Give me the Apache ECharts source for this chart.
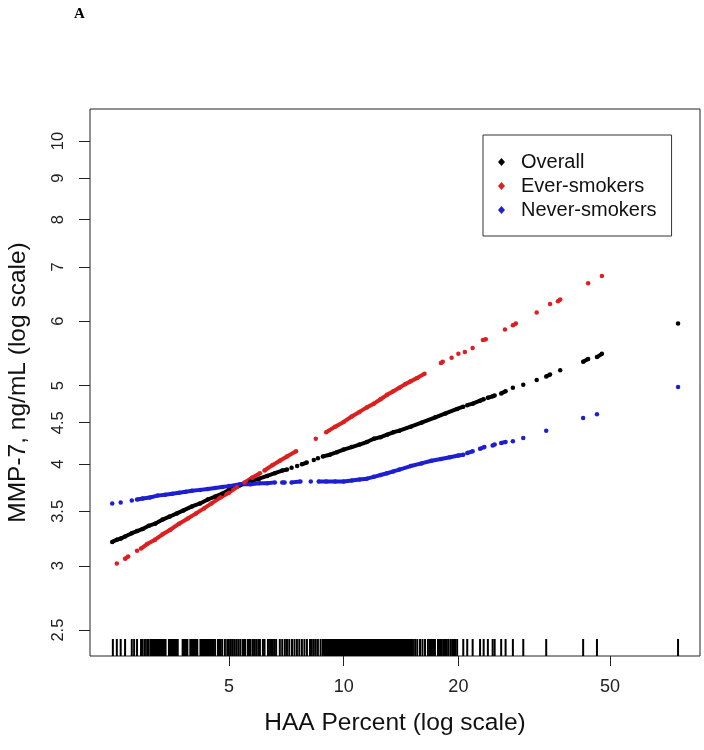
<!DOCTYPE html>
<html>
<head>
<meta charset="utf-8">
<script src="https://cdn.jsdelivr.net/npm/echarts@6/dist/echarts.min.js"></script>
<style>
html,body{margin:0;padding:0;background:#fff;}
#chart{width:704px;height:750px;}
</style>
</head>
<body>
<div id="chart"></div>
<script>
// ---- axis ranges / ticks ----
const X_MIN = 2.16, X_MAX = 86.1;
const Y_MIN = 2.323, Y_MAX = 10.95;
const xTicks = [5, 10, 20, 50];
const yTicks = [2.5, 3, 3.5, 4, 4.5, 5, 6, 7, 8, 9, 10];

// ---- rug (HAA percent of each subject) ----
const haaRug = [
  2.48, 2.54, 2.60, 2.67, 2.78, 2.82, 2.87, 2.94, 2.97, 3.01, 3.05, 3.08,
  3.12, 3.14, 3.16, 3.18, 3.20, 3.22, 3.23, 3.25, 3.27, 3.29, 3.31, 3.33, 3.35, 3.37, 3.39, 3.41,
  3.48, 3.50, 3.52, 3.54, 3.56, 3.58, 3.61, 3.63, 3.65, 3.67,
  3.78, 3.80, 3.82, 3.84, 3.87, 3.89, 3.96, 3.98, 4.01, 4.03, 4.06, 4.08, 4.11, 4.13,
  4.21, 4.23, 4.26, 4.28, 4.31, 4.33, 4.36, 4.39, 4.42, 4.44, 4.47, 4.50, 4.53, 4.56,
  4.60, 4.68, 4.72, 4.75, 4.80, 4.88, 4.95, 5.00, 5.06, 5.12, 5.18, 5.24, 5.30, 5.36, 5.44,
  5.48, 5.52, 5.61, 5.65, 5.70, 5.78, 5.84, 5.90, 5.97, 6.03, 6.14, 6.20, 6.33, 6.41, 6.46,
  6.52, 6.58, 6.65, 6.80, 6.90, 7.01, 7.10, 7.20, 7.32, 7.43, 7.54, 7.65, 7.77, 7.89, 8.01,
  8.16, 8.25, 8.35, 8.45, 8.56, 8.70,
  8.82, 8.87, 8.93, 8.98, 9.04, 9.09, 9.15, 9.20, 9.26, 9.31, 9.37, 9.42, 9.48, 9.54, 9.60,
  9.66, 9.72, 9.78, 9.84, 9.90, 9.96, 10.02, 10.08, 10.14, 10.20, 10.26, 10.33, 10.39,
  10.45, 10.51, 10.58, 10.64, 10.71, 10.77, 10.84, 10.90, 10.97, 11.03, 11.10, 11.17,
  11.24, 11.31, 11.38, 11.45, 11.52, 11.59, 11.66, 11.73, 11.80, 11.87, 11.94, 12.01,
  12.09, 12.16, 12.24, 12.31, 12.39, 12.46, 12.54, 12.61, 12.69, 12.77, 12.85, 12.92,
  13.00, 13.08, 13.16, 13.24, 13.32, 13.40, 13.48, 13.56, 13.65, 13.73, 13.81, 13.89,
  13.98, 14.06, 14.15, 14.23, 14.32, 14.41, 14.50, 14.59, 14.68, 14.77, 14.86,
  15.02, 15.20, 15.40, 15.60, 15.86, 16.10, 16.35, 16.64, 16.85, 17.05, 17.20, 17.36,
  17.68, 17.90, 18.10, 18.30, 18.45, 18.60, 18.80, 19.05, 19.26, 19.45, 19.60, 19.85,
  20.60, 21.10, 21.80, 22.80, 23.30, 23.90, 24.60, 24.90, 25.90, 26.60,
  27.80, 29.60, 34.00, 42.50, 46.20, 75.40
];

// ---- Overall (null = gap between points) ----
const overallX = [2.47, 2.54, 2.60, 2.67, 2.78, 2.87, 2.97, 3.08, 3.20, 3.35, 3.50, 3.65, 3.80, 4.00, 4.20, 4.40, 4.60, 4.80, 5.00, 5.35, 5.70, 6.00, 6.30, 6.60, 6.90, 7.10, null, 7.30, null, 7.55, null, 7.77, 8.00, null, 8.35, null, 8.56, null, 8.82, 9.20, 9.60, 10.00, 10.50, 11.00, 11.50, 12.00, 12.50, 13.00, 13.50, 14.00, 15.00, 16.00, 17.40, 18.50, 19.85, 20.60, null, 21.10, 21.80, 22.80, 23.30, null, 23.90, 24.60, 24.90, null, 25.90, 26.60, null, 27.80, null, 29.60, null, 32.10, null, 34.00, 34.80, null, 37.00, null, 42.50, 43.80, null, 46.20, 47.60, null, 75.40];
const overallY = [3.21, 3.23, 3.24, 3.26, 3.29, 3.31, 3.33, 3.36, 3.38, 3.42, 3.45, 3.48, 3.51, 3.55, 3.58, 3.62, 3.65, 3.68, 3.72, 3.77, 3.81, 3.84, 3.87, 3.90, 3.93, 3.94, null, 3.96, null, 3.98, null, 4.00, 4.02, null, 4.05, null, 4.07, null, 4.09, 4.11, 4.14, 4.17, 4.20, 4.23, 4.26, 4.30, 4.32, 4.35, 4.38, 4.40, 4.45, 4.50, 4.57, 4.62, 4.68, 4.71, null, 4.73, 4.75, 4.79, 4.81, null, 4.83, 4.85, 4.86, null, 4.89, 4.92, null, 4.97, null, 5.01, null, 5.08, null, 5.13, 5.16, null, 5.22, null, 5.35, 5.39, null, 5.42, 5.47, null, 5.96];

// ---- Ever-smokers ----
const everX = [2.54, null, 2.67, 2.72, null, 2.87, null, 2.94, 3.05, 3.20, 3.35, 3.50, 3.70, 3.90, 4.10, 4.30, 4.50, 4.75, 5.00, 5.25, 5.50, 5.75, 6.03, null, 6.20, 6.50, 6.80, 7.10, 7.50, null, 8.45, null, 9.00, 9.50, 10.00, 10.50, 11.00, 11.50, 12.00, 12.50, 13.00, 13.50, 14.00, 14.50, 15.00, 15.60, 16.30, null, 18.00, 18.20, null, 19.20, null, 20.00, null, 20.80, null, 21.80, null, 23.20, 23.60, null, 26.50, null, 27.80, 28.30, null, 32.10, null, 34.80, null, 36.50, 37.00, null, 43.80, null, 47.60];
const everY = [3.02, null, 3.06, 3.08, null, 3.13, null, 3.15, 3.19, 3.23, 3.28, 3.32, 3.38, 3.43, 3.48, 3.53, 3.58, 3.64, 3.69, 3.75, 3.80, 3.85, 3.90, null, 3.93, 3.99, 4.04, 4.09, 4.15, null, 4.30, null, 4.38, 4.45, 4.51, 4.58, 4.64, 4.70, 4.75, 4.81, 4.87, 4.92, 4.97, 5.02, 5.06, 5.11, 5.17, null, 5.33, 5.35, null, 5.41, null, 5.47, null, 5.50, null, 5.56, null, 5.69, 5.70, null, 5.86, null, 5.93, 5.96, null, 6.15, null, 6.30, null, 6.35, 6.38, null, 6.68, null, 6.82];

// ---- Never-smokers ----
const neverX = [2.47, null, 2.60, null, 2.78, null, 2.87, 2.97, 3.10, 3.25, 3.40, 3.55, 3.70, 3.85, 4.00, 4.20, 4.40, 4.60, 4.80, 5.00, 5.35, 5.70, 6.00, 6.30, 6.60, null, 6.90, 7.00, null, 7.30, 7.70, null, 8.20, null, 8.60, 9.00, 9.50, 10.00, 10.50, 11.00, 11.50, 12.00, 12.50, 13.00, 13.50, 14.00, 15.00, 16.00, 17.00, 18.00, 19.00, 20.00, 20.60, null, 21.10, 21.80, null, 22.80, 23.40, null, 24.60, 24.90, null, 25.90, 26.60, null, 27.80, null, 29.60, null, 34.00, null, 42.50, null, 46.20, null, 75.40];
const neverY = [3.58, null, 3.59, null, 3.61, null, 3.62, 3.63, 3.64, 3.66, 3.67, 3.68, 3.69, 3.70, 3.71, 3.72, 3.73, 3.74, 3.75, 3.76, 3.78, 3.78, 3.79, 3.79, 3.80, null, 3.80, 3.80, null, 3.80, 3.81, null, 3.81, null, 3.81, 3.81, 3.81, 3.81, 3.82, 3.83, 3.84, 3.86, 3.88, 3.90, 3.92, 3.94, 3.98, 4.01, 4.04, 4.06, 4.08, 4.10, 4.11, null, 4.13, 4.15, null, 4.18, 4.20, null, 4.22, 4.23, null, 4.25, 4.26, null, 4.27, null, 4.31, null, 4.40, null, 4.56, null, 4.61, null, 4.98];

const seriesNames = ['Overall', 'Ever-smokers', 'Never-smokers'];
const seriesColors = ['#000000', '#dd1f1f', '#1f1fd2'];

function pairs(xs, ys) {
  return xs.map((x, i) => [x, ys[i]]);
}

const FONT = 'Liberation Sans, Arial, sans-serif';
const chart = echarts.init(document.getElementById('chart'), null, {renderer: 'canvas'});

function lineSeries(name, color, xs, ys) {
  return {
    type: 'line',
    name: name,
    data: pairs(xs, ys),
    connectNulls: false,
    symbol: 'circle',
    symbolSize: 4.5,
    showSymbol: true,
    showAllSymbol: true,
    lineStyle: {color: color, width: 4},
    itemStyle: {color: color, borderWidth: 0},
    emphasis: {disabled: true},
    animation: false,
    z: 4
  };
}

const option = {
  animation: false,
  backgroundColor: '#ffffff',
  textStyle: {fontFamily: FONT},
  title: {
    text: 'A',
    left: 69, top: 2,
    textStyle: {fontFamily: 'Liberation Serif, Times New Roman, serif', fontWeight: 'bold', fontSize: 15, color: '#000'}
  },
  grid: {
    left: 90, right: 4, top: 109, bottom: 94,
    show: true, borderColor: '#222', borderWidth: 1, backgroundColor: 'transparent',
    containLabel: false, outerBoundsMode: 'none'
  },
  legend: {
    data: seriesNames,
    orient: 'vertical',
    left: 483, top: 135,
    icon: 'diamond',
    itemWidth: 7, itemHeight: 8,
    itemGap: 4,
    padding: [17, 15, 16, 15],
    borderColor: '#333', borderWidth: 1, borderRadius: 0,
    backgroundColor: '#fff',
    selectedMode: false,
    textStyle: {fontFamily: FONT, fontSize: 20, color: '#111', lineHeight: 20, padding: [0, 0, 0, 11]}
  },
  xAxis: {
    type: 'log', logBase: 10, min: X_MIN, max: X_MAX,
    axisLine: {show: false},
    splitLine: {show: false},
    minorTick: {show: false},
    axisTick: {show: true, length: 10, customValues: xTicks, lineStyle: {color: '#222', width: 1}},
    axisLabel: {customValues: xTicks, fontSize: 18, color: '#222', margin: 22, fontFamily: FONT,
      formatter: v => String(+Number(v).toFixed(2))},
    name: 'HAA Percent (log scale)',
    nameLocation: 'middle', nameGap: 55,
    nameTextStyle: {fontSize: 24.5, color: '#111', fontFamily: FONT}
  },
  yAxis: {
    type: 'log', logBase: 10, min: Y_MIN, max: Y_MAX,
    axisLine: {show: false},
    splitLine: {show: false},
    minorTick: {show: false},
    axisTick: {show: true, length: 11, customValues: yTicks, lineStyle: {color: '#222', width: 1}},
    axisLabel: {customValues: yTicks, rotate: 90, fontSize: 16.5, color: '#222', margin: 23, fontFamily: FONT,
      formatter: v => String(+Number(v).toFixed(2))},
    name: 'MMP-7, ng/mL (log scale)',
    nameLocation: 'middle', nameGap: 59,
    nameTextStyle: {fontSize: 24.5, color: '#111', fontFamily: FONT}
  },
  series: [
    {
      type: 'custom',
      name: 'rug',
      silent: true,
      clip: false,
      data: haaRug.map(v => [v, Y_MIN]),
      encode: {x: 0, y: 1},
      renderItem: function (params, api) {
        const p = api.coord([api.value(0), Y_MIN]);
        return {
          type: 'line',
          shape: {x1: p[0], y1: p[1], x2: p[0], y2: p[1] - 17},
          style: {stroke: '#000', lineWidth: 2}
        };
      },
      z: 3
    },
    lineSeries(seriesNames[0], seriesColors[0], overallX, overallY),
    lineSeries(seriesNames[1], seriesColors[1], everX, everY),
    lineSeries(seriesNames[2], seriesColors[2], neverX, neverY)
  ]
};
chart.setOption(option);
</script>
</body>
</html>
